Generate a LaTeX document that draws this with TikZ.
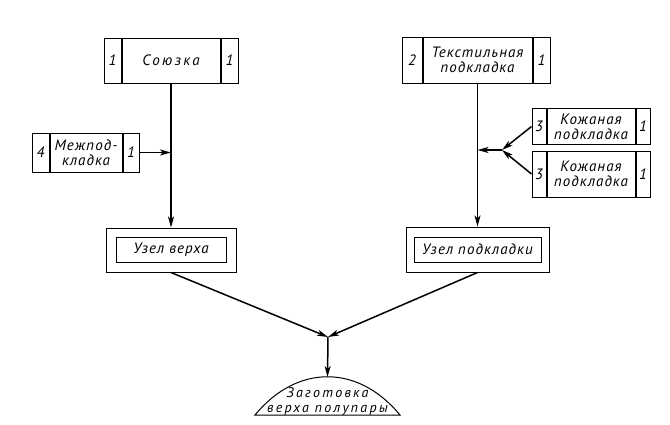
\documentclass[tikz,border=0pt]{standalone}
\usepackage{fontspec}
\setmainfont{PT Sans}
\newfontfamily\gost{PT Sans}[LetterSpace=7]
\newfontfamily\gostwide{PT Sans}[LetterSpace=16]
\usetikzlibrary{positioning,arrows.meta}

\tikzset{
  cell/.style={draw, line width=1pt, inner sep=0pt, align=center,
    font=\gost\itshape\fontsize{15}{15}\selectfont},
  conn/.style={line width=1.5pt, -{Stealth[length=11pt,width=6pt,inset=3pt]}},
}

\begin{document}
\begin{tikzpicture}[x=1pt,y=-1pt]
  \useasboundingbox (0,0) rectangle (670,424);
  % upper parts
  \node[cell, minimum width=98pt, minimum height=45pt, font=\gostwide\itshape\fontsize{15}{15}\selectfont] (soyuzka) at (171,60.5) {Союзка};
  \node[cell, minimum width=17pt, minimum height=45pt, left=0pt of soyuzka] (soyuzka-a) {1};
  \node[cell, minimum width=17pt, minimum height=45pt, right=0pt of soyuzka] (soyuzka-b) {1};
  \node[cell, minimum width=109pt, minimum height=46pt] (tekst) at (477.5,60) {Текстильная\\подкладка};
  \node[cell, minimum width=20pt, minimum height=46pt, left=0pt of tekst] (tekst-a) {2};
  \node[cell, minimum width=17pt, minimum height=46pt, right=0pt of tekst] (tekst-b) {1};
  \node[cell, minimum width=72pt, minimum height=39pt] (mezh) at (86,152.5) {Межпод-\\кладка};
  \node[cell, minimum width=17pt, minimum height=39pt, left=0pt of mezh] (mezh-a) {4};
  \node[cell, minimum width=16pt, minimum height=39pt, right=0pt of mezh] (mezh-b) {1};
  \node[cell, minimum width=88pt, minimum height=36pt] (kozh1) at (591,126.5) {Кожаная\\подкладка};
  \node[cell, minimum width=14pt, minimum height=36pt, left=0pt of kozh1] (kozh1-a) {3};
  \node[cell, minimum width=14pt, minimum height=36pt, right=0pt of kozh1] (kozh1-b) {1};
  \node[cell, minimum width=88pt, minimum height=46pt] (kozh2) at (591,174) {Кожаная\\подкладка};
  \node[cell, minimum width=14pt, minimum height=46pt, left=0pt of kozh2] (kozh2-a) {3};
  \node[cell, minimum width=14pt, minimum height=46pt, right=0pt of kozh2] (kozh2-b) {1};
  % units
  \node[cell, minimum width=130pt, minimum height=44pt] (verkh) at (171,250) {};
  \node[cell, minimum width=110pt, minimum height=25pt] (verkh-in) at (verkh) {Узел верха};
  \node[cell, minimum width=143pt, minimum height=45pt] (podkl) at (477.5,249.5) {};
  \node[cell, minimum width=127pt, minimum height=25pt] (podkl-in) at (podkl) {Узел подкладки};
  % blank
  \coordinate (zag-top) at (327.5,377);
  \draw[line width=1pt] (255,415) .. controls (297,364) and (358,364) .. (400,415) -- cycle;
  \node[cell, draw=none, font=\gostwide\itshape\fontsize{14}{15}\selectfont] (zag) at (327.5,401) {Заготовка\\верха полупары};
  % junctions
  \coordinate (j1) at (502,150);
  \coordinate (j2) at (328,337);
  \draw[conn] (soyuzka.south) -- (soyuzka.south |- verkh.north);
  \draw[conn] (mezh-b.east) -- (mezh-b.east -| soyuzka.south);
  \draw[conn] (tekst.south) -- (tekst.south |- podkl.north);
  \draw[conn] (kozh1-a.west) -- (j1);
  \draw[conn] (kozh2-a.west) -- (j1);
  \draw[conn] (j1) -- (j1 -| tekst.south);
  \draw[conn] (verkh.south) -- (j2);
  \draw[conn] (podkl.south) -- (j2);
  \draw[conn] (j2) -- (zag-top);
\end{tikzpicture}
\end{document}
